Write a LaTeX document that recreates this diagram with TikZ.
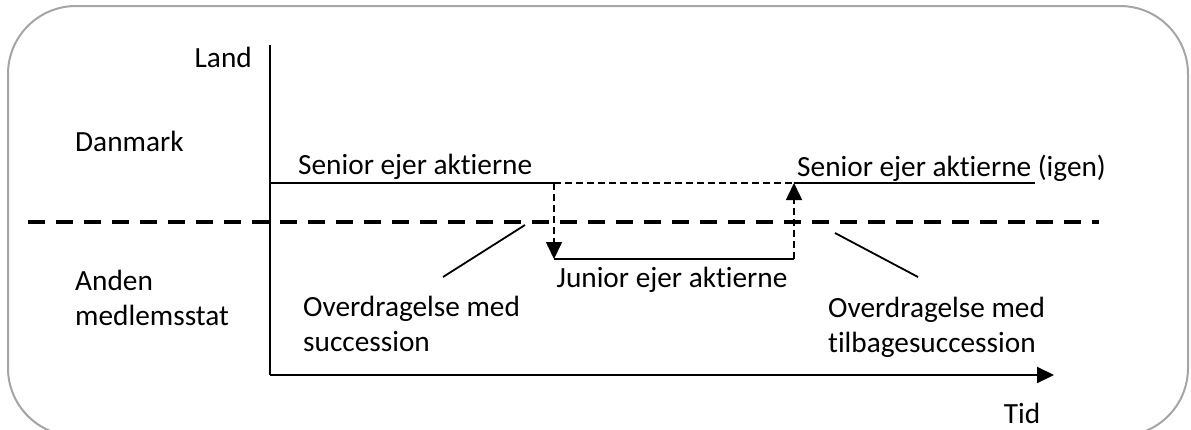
\documentclass[tikz,border=0pt]{standalone}
\usepackage{fontspec}
\setmainfont{Carlito}[Ligatures=NoCommon]
\usetikzlibrary{arrows.meta}
\begin{document}
\begin{tikzpicture}[x=1pt,y=-1pt,
  lbl/.style={inner sep=0pt,font=\fontsize{29.3}{35}\selectfont,align=left},
  axis/.style={line width=2pt},
  thin/.style={line width=1.8pt},
  thindash/.style={line width=1.6pt,dash pattern=on 7pt off 4pt},
  border/.style={line width=2pt,draw={rgb,255:red,165;green,165;blue,165}},
  tip/.style={-{Triangle[length=17pt,width=16pt]}},
  leader/.style={line width=1.8pt},
  boundary/.style={line width=4pt,dash pattern=on 17pt off 11pt}]
\useasboundingbox (0,0) rectangle (1191,429);
% frame
\draw[border,rounded corners=68pt] (8,6) rectangle (1188,436);

% axes
\coordinate (ytop) at (270,45);
\coordinate (origin) at (270,375);
\coordinate (xend) at (1054,375);
\draw[axis] (ytop) -- (origin);
\draw[axis,tip] (origin) -- (xend);

% border between the two countries
\coordinate (bl) at (28,222);
\coordinate (br) at (1099,222);
\draw[boundary] (bl) -- (br);

% ownership timeline
\coordinate (s0) at (270,183);
\coordinate (s1) at (554,183);
\coordinate (s2) at (794,183);
\coordinate (s3) at (1035,183);
\coordinate (j1) at (554,259);
\coordinate (j2) at (794,259);
\draw[thin] (s0) -- (s1);
\draw[thindash] (s1) -- (s2);
\draw[thin] (s2) -- (s3);
\draw[thindash,tip] (s1) -- (j1);
\draw[thin] (j1) -- (j2);
\draw[thindash,tip] (j2) -- (s2);

% leaders
\coordinate (la) at (525,225);
\coordinate (lb) at (443,277);
\coordinate (ra) at (835,233);
\coordinate (rb) at (918,277);
\draw[leader] (la) -- (lb);
\draw[leader] (ra) -- (rb);

% labels
\node[lbl,anchor=east] (land) at (252,57) {Land};
\node[lbl,anchor=west] (dk) at (75,141) {Danmark};
\node[lbl,anchor=west] (other) at (75,298) {Anden\\medlemsstat};
\node[lbl,anchor=west] (sen) at (298,167) {Senior ejer aktierne};
\node[lbl,anchor=west] (sen2) at (797,168) {Senior ejer aktierne (igen)};
\node[lbl] (jun) at (672,280) {Junior ejer aktierne};
\node[lbl,anchor=west] (ov1) at (303,324) {Overdragelse med\\succession};
\node[lbl,anchor=west] (ov2) at (828,327) {Overdragelse med\\tilbagesuccession};
\node[lbl] (tid) at (1022,413) {Tid};
\end{tikzpicture}
\end{document}
